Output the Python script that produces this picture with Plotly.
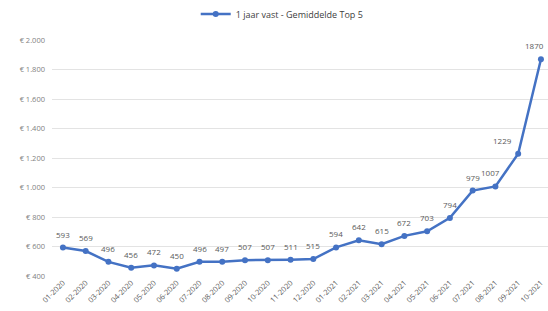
import plotly.graph_objects as go

months = ["01-2020", "02-2020", "03-2020", "04-2020", "05-2020", "06-2020",
          "07-2020", "08-2020", "09-2020", "10-2020", "11-2020", "12-2020",
          "01-2021", "02-2021", "03-2021", "04-2021", "05-2021", "06-2021",
          "07-2021", "08-2021", "09-2021", "10-2021"]
values = [593, 569, 496, 456, 472, 450, 496, 497, 507, 507, 511, 515,
          594, 642, 615, 672, 703, 794, 979, 1007, 1229, 1870]
# horizontal nudges (px) for a few data labels, as in the original
label_dx = {19: -5, 20: -16, 21: -6}

y_ticks = [400, 600, 800, 1000, 1200, 1400, 1600, 1800, 2000]
y_ticktext = ["€ 400", "€ 600", "€ 800", "€ 1.000", "€ 1.200", "€ 1.400",
              "€ 1.600", "€ 1.800", "€ 2.000"]
series_name = "1 jaar vast - Gemiddelde Top 5"

blue = "#4472C4"
gray = "#595959"

fig = go.Figure()
fig.add_trace(go.Scatter(
    x=list(range(len(months))), y=values, name=series_name,
    mode="lines+markers",
    line=dict(color=blue, width=2.5),
    marker=dict(color=blue, size=6),
    cliponaxis=False,
))

for i, v in enumerate(values):
    fig.add_annotation(
        x=i, y=v, text=str(v), showarrow=False,
        xanchor="center", yanchor="bottom",
        xshift=label_dx.get(i, 0), yshift=6,
        font=dict(size=8, color=gray, family="Open Sans"),
    )

fig.update_layout(
    width=548, height=311,
    margin=dict(l=52, r=0, t=40, b=35, autoexpand=False),
    paper_bgcolor="white", plot_bgcolor="white",
    font=dict(family="Open Sans", color=gray),
    showlegend=True,
    legend=dict(orientation="h", x=0.515, xanchor="center", xref="container",
                y=0.955, yanchor="middle", yref="container",
                font=dict(size=9, color="#404040", family="Open Sans"),
                itemwidth=30),
    xaxis=dict(
        tickmode="array", tickvals=list(range(len(months))), ticktext=months,
        tickangle=-45, tickfont=dict(size=7.5, color=gray),
        range=[-0.48, 21.31], showgrid=False, showline=False, zeroline=False,
        ticks="", fixedrange=True, automargin=False,
    ),
    yaxis=dict(
        tickmode="array", tickvals=y_ticks, ticktext=y_ticktext,
        range=[400, 2000], tickfont=dict(size=7.5, color="#7F7F7F"),
        showgrid=True, gridcolor="#E3E3E3", gridwidth=1,
        zeroline=False, showline=False, ticks="", ticklabelstandoff=6,
        automargin=False,
    ),
)

fig.write_html("out.html", config={"displayModeBar": False},
               post_script="document.body.style.margin='0';document.body.style.overflow='hidden';")
